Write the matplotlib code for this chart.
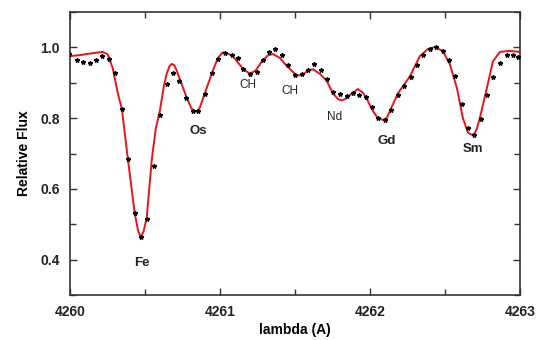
import matplotlib
matplotlib.use("Agg")
import matplotlib.pyplot as plt
from matplotlib.ticker import MultipleLocator

plt.rcParams['font.family'] = ['Liberation Sans', 'DejaVu Sans']

# === OBSERVED SPECTRUM (stars) ===
obs_lam = [4259.995, 4260.045, 4260.089, 4260.133, 4260.178, 4260.218, 4260.262,
           4260.300, 4260.345, 4260.389, 4260.433, 4260.473, 4260.515, 4260.562,
           4260.600, 4260.645, 4260.689, 4260.729, 4260.773, 4260.818, 4260.855,
           4260.900, 4260.945, 4260.989, 4261.033, 4261.078, 4261.118, 4261.155,
           4261.200, 4261.245, 4261.285, 4261.329, 4261.369, 4261.413, 4261.455,
           4261.500, 4261.545, 4261.589, 4261.627, 4261.671, 4261.715, 4261.755,
           4261.800, 4261.845, 4261.885, 4261.929, 4261.973, 4262.011, 4262.055,
           4262.100, 4262.140, 4262.185, 4262.229, 4262.271, 4262.311, 4262.355,
           4262.400, 4262.440, 4262.485, 4262.525, 4262.567, 4262.611, 4262.651,
           4262.693, 4262.738, 4262.778, 4262.822, 4262.867, 4262.911, 4262.951,
           4262.989]
obs_flux = [0.981, 0.965, 0.958, 0.956, 0.963, 0.975, 0.968,
            0.928, 0.825, 0.684, 0.532, 0.464, 0.516, 0.666,
            0.809, 0.897, 0.927, 0.906, 0.858, 0.820, 0.820,
            0.869, 0.928, 0.968, 0.984, 0.978, 0.970, 0.940,
            0.925, 0.931, 0.963, 0.986, 0.995, 0.979, 0.951,
            0.923, 0.925, 0.935, 0.953, 0.935, 0.911, 0.874,
            0.869, 0.862, 0.872, 0.864, 0.860, 0.831, 0.801,
            0.794, 0.822, 0.864, 0.892, 0.917, 0.951, 0.979,
            0.996, 1.000, 0.989, 0.963, 0.918, 0.839, 0.772,
            0.753, 0.797, 0.864, 0.917, 0.956, 0.978, 0.979,
            0.973]

# === SYNTHETIC SPECTRUM (red line) ===
syn_lam = [4260.000, 4260.067, 4260.147, 4260.220, 4260.253, 4260.287, 4260.320,
           4260.347, 4260.387, 4260.433, 4260.455, 4260.473, 4260.492, 4260.513,
           4260.547, 4260.573, 4260.600, 4260.627, 4260.647, 4260.665, 4260.680,
           4260.695, 4260.707, 4260.733, 4260.780, 4260.810, 4260.833, 4260.850,
           4260.867, 4260.900, 4260.947, 4260.987, 4261.020, 4261.053, 4261.087,
           4261.153, 4261.200, 4261.240, 4261.280, 4261.320, 4261.353, 4261.400,
           4261.447, 4261.513, 4261.553, 4261.587, 4261.620, 4261.667, 4261.713,
           4261.753, 4261.790, 4261.813, 4261.840, 4261.867, 4261.920, 4261.953,
           4261.980, 4262.020, 4262.053, 4262.087, 4262.113, 4262.133, 4262.187,
           4262.267, 4262.333, 4262.387, 4262.433, 4262.487, 4262.533, 4262.580,
           4262.620, 4262.653, 4262.672, 4262.687, 4262.700, 4262.713, 4262.733,
           4262.780, 4262.820, 4262.867, 4262.933, 4263.000]
syn_flux = [0.975, 0.978, 0.983, 0.987, 0.980, 0.940, 0.870,
            0.826, 0.685, 0.530, 0.482, 0.464, 0.480, 0.520,
            0.685, 0.770, 0.820, 0.890, 0.927, 0.947, 0.953,
            0.950, 0.940, 0.910, 0.857, 0.828, 0.818, 0.820,
            0.830, 0.870, 0.927, 0.970, 0.986, 0.982, 0.975,
            0.940, 0.925, 0.935, 0.960, 0.977, 0.981, 0.970,
            0.947, 0.920, 0.922, 0.935, 0.938, 0.925, 0.905,
            0.870, 0.853, 0.850, 0.855, 0.865, 0.882, 0.872,
            0.854, 0.820, 0.800, 0.795, 0.800, 0.820, 0.870,
            0.918, 0.975, 0.995, 1.001, 0.989, 0.952, 0.885,
            0.800, 0.760, 0.754, 0.753, 0.758, 0.770, 0.800,
            0.885, 0.960, 0.987, 0.990, 0.987]

# === LINE IDENTIFICATIONS ===
ion_names = ['Fe', 'Os', 'CH', 'CH', 'Nd', 'Gd', 'Sm']
ion_lam = [4260.48, 4260.853, 4261.187, 4261.467, 4261.767, 4262.113, 4262.687]
ion_flux = [0.39, 0.764, 0.893, 0.876, 0.803, 0.736, 0.713]
ion_bold = [True, True, False, False, False, True, True]

fig = plt.figure(figsize=(5.41, 3.40), dpi=100)
ax = fig.add_axes([0.129, 0.132, 0.832, 0.833])

ax.plot(syn_lam, syn_flux, color='#e8141b', lw=1.4, zorder=2,
        solid_joinstyle='round', solid_capstyle='round')
ax.plot(obs_lam, obs_flux, ls='none', marker='*', color='black',
        markersize=3.2, zorder=3)

for nome, lx, ly, b in zip(ion_names, ion_lam, ion_flux, ion_bold):
    ax.text(lx, ly, nome, ha='center', va='center',
            fontsize=9.5 if b else 8.5, fontweight='bold' if b else 'normal',
            color='#222222')

ax.set_xlim(4260, 4263)
ax.set_ylim(0.3, 1.1)
ax.xaxis.set_minor_locator(MultipleLocator(0.5))
ax.yaxis.set_minor_locator(MultipleLocator(0.1))
ax.set_yticks([0.4, 0.6, 0.8, 1.0])
ax.set_yticklabels(['0.4', '0.6', '0.8', '1.0'])
ax.set_xticks([4260, 4261, 4262, 4263])
ax.set_xticklabels(['4260', '4261', '4262', '4263'])

ax.tick_params(which='both', direction='in', top=True, right=True,
               color='#333333', width=1.0)
ax.tick_params(which='major', length=5, labelsize=10, pad=7)
ax.tick_params(which='minor', length=4)
for lbl in ax.get_xticklabels() + ax.get_yticklabels():
    lbl.set_fontweight('bold')
    lbl.set_color('#222222')
for s in ax.spines.values():
    s.set_linewidth(1.2)
    s.set_color('#333333')

ax.set_xlabel('lambda (A)', fontsize=10, fontweight='bold', labelpad=3)
ax.set_ylabel('Relative Flux', fontsize=10, fontweight='bold', labelpad=7)

fig.savefig('out.png', dpi=100)
